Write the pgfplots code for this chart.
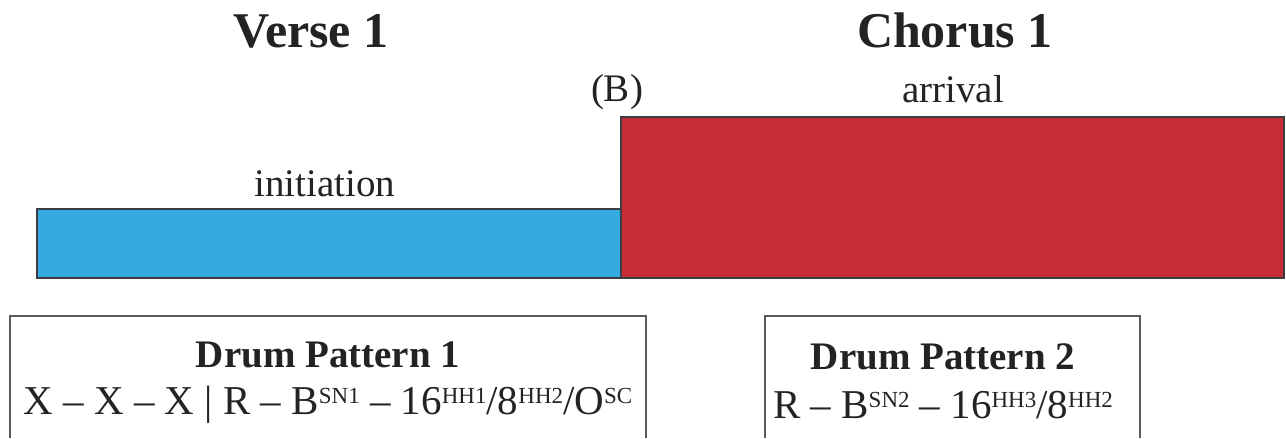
\documentclass[border=0pt]{standalone}
\usepackage{pgfplots}
\pgfplotsset{compat=1.18}
\usepackage{fontspec}
\setmainfont{Liberation Serif}
\definecolor{cblue}{RGB}{52,170,224}
\definecolor{cred}{RGB}{200,45,55}
\definecolor{edge}{RGB}{60,60,66}
\definecolor{txt}{RGB}{35,35,35}
\newcommand{\sups}[1]{\raisebox{0.62ex}{\fontsize{11.5}{12}\selectfont #1}}
\begin{document}
\begin{tikzpicture}
\begin{axis}[
  scale only axis, width=643pt, height=219pt,
  xmin=0, xmax=1286, ymin=0, ymax=438,
  hide axis, clip=false,
]
\path (axis cs:0,0) rectangle (axis cs:1286,438);
% initiation segment (Verse 1)
\addplot[fill=cblue, draw=edge, line width=1pt] coordinates {(37,160) (621,160) (621,229) (37,229)} --cycle;
% arrival segment (Chorus 1)
\addplot[fill=cred, draw=edge, line width=1pt] coordinates {(621,160) (1284,160) (1284,321) (621,321)} --cycle;

\begin{scope}[every node/.style={text=txt}]
\node[anchor=base, font=\fontsize{25}{30}\selectfont\bfseries] at (axis cs:311,390) {Verse 1};
\node[anchor=base, font=\fontsize{25}{30}\selectfont\bfseries] at (axis cs:955,390) {Chorus 1};
\node[anchor=base, font=\fontsize{19.5}{23}\selectfont] at (axis cs:617,336) {(B)};
\node[anchor=base, font=\fontsize{19.5}{23}\selectfont] at (axis cs:953,335) {arrival};
\node[anchor=base, font=\fontsize{19.5}{23}\selectfont] at (axis cs:325,241) {initiation};

\node[anchor=base, font=\fontsize{19.5}{23}\selectfont\bfseries] at (axis cs:328,70) {Drum Pattern 1};
\node[anchor=base, font=\fontsize{20.5}{24}\selectfont] at (axis cs:328,23) {X -- X -- X \textbar{} R -- B\sups{SN1} -- 16\sups{HH1}/8\sups{HH2}/O\sups{SC}};
\node[anchor=base, font=\fontsize{19.5}{23}\selectfont\bfseries] at (axis cs:943,68) {Drum Pattern 2};
\node[anchor=base, font=\fontsize{20.5}{24}\selectfont] at (axis cs:943,19) {R -- B\sups{SN2} -- 16\sups{HH3}/8\sups{HH2}};
\end{scope}

\draw[edge!85, line width=0.8pt] (axis cs:10,0) |- (axis cs:646,122) -- (axis cs:646,0);
\draw[edge!85, line width=0.8pt] (axis cs:765,0) |- (axis cs:1140,122) -- (axis cs:1140,0);
\end{axis}
\end{tikzpicture}
\end{document}
